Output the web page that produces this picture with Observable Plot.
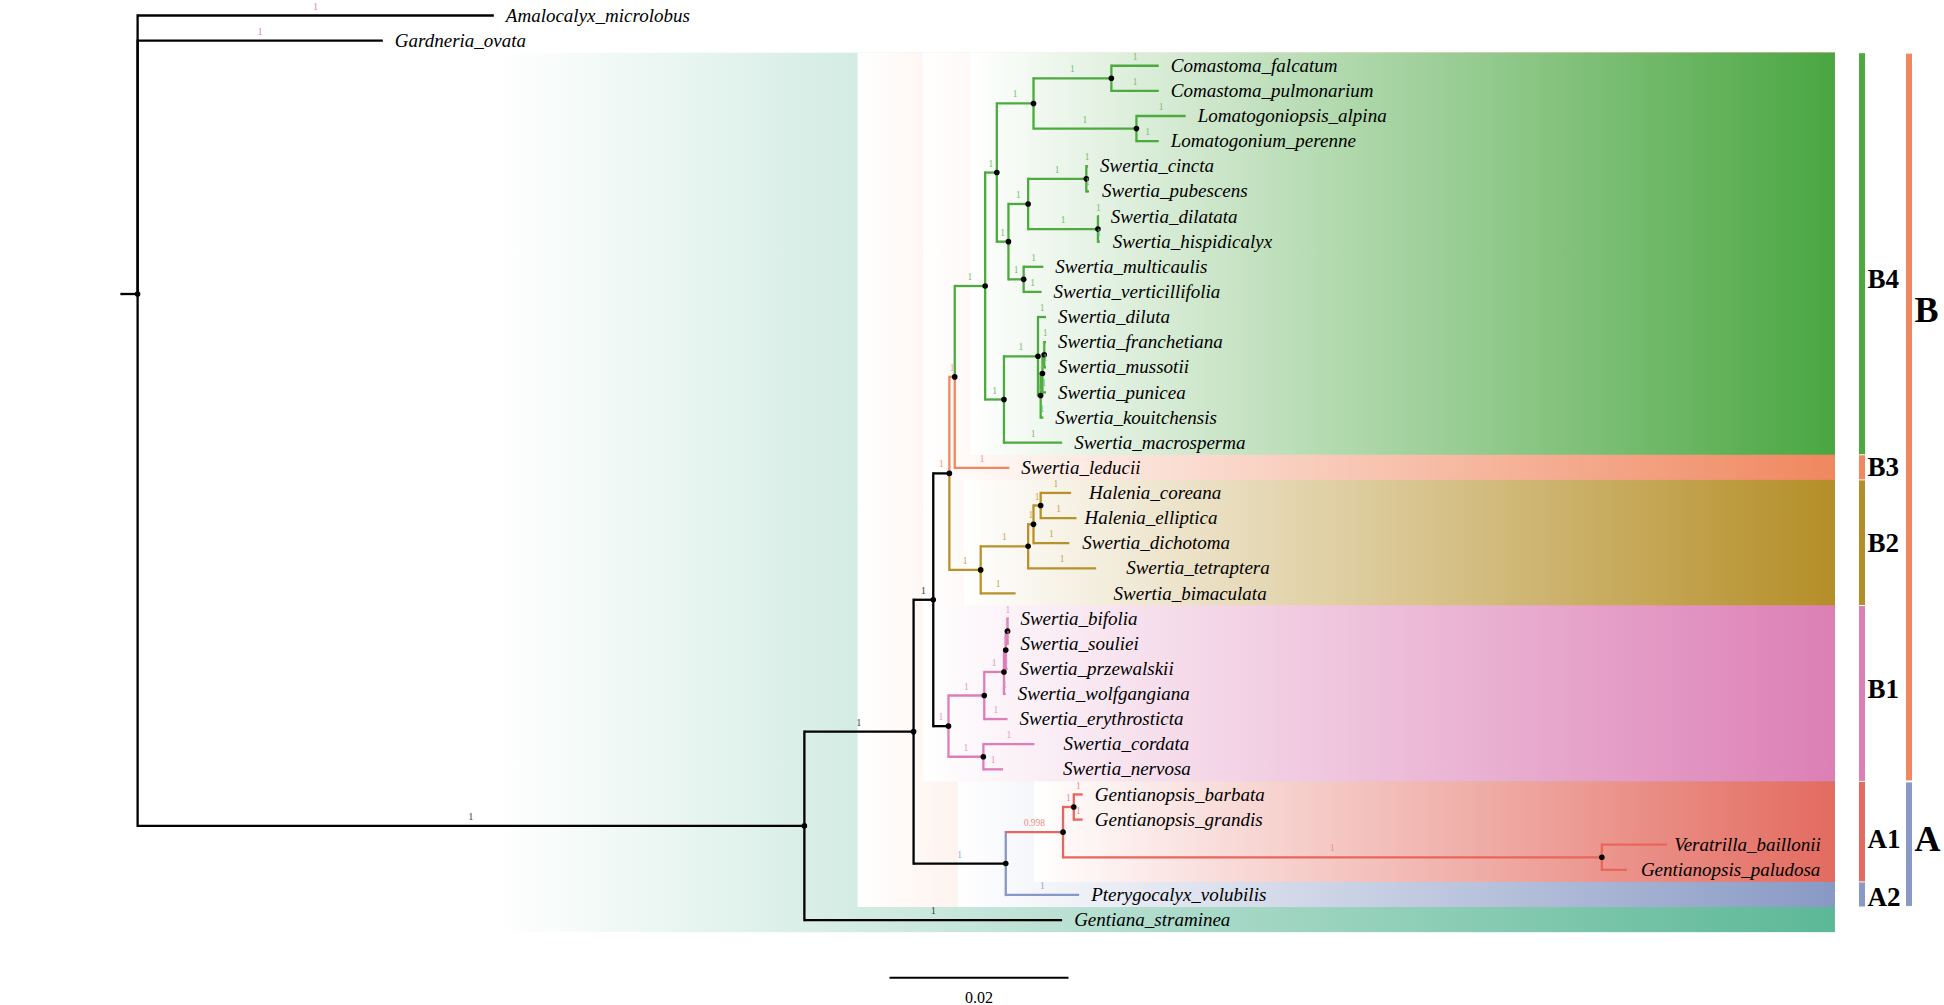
<!DOCTYPE html>
<html><head><meta charset="utf-8">
<script src="https://cdn.jsdelivr.net/npm/d3@7"></script>
<script src="https://cdn.jsdelivr.net/npm/@observablehq/plot@0.6"></script>
<style>body{margin:0;background:#fff} svg{display:block}</style>
</head><body><div id="chart"></div>
<script>
// ---------------- DATA ----------------
const nodeIds = ["origin","root","Amalocalyx_microlobus","Gardneria_ovata","N_in","N_X","N_B","N_B234","N_B43","N_B4","N_B4a","N_Com","N_Comastoma","Comastoma_falcatum","Comastoma_pulmonarium","N_Lomato","Lomatogoniopsis_alpina","Lomatogonium_perenne","N_Sw1","N_cdh","N_cp","Swertia_cincta","Swertia_pubescens","N_dh","Swertia_dilatata","Swertia_hispidicalyx","N_mv","Swertia_multicaulis","Swertia_verticillifolia","N_B4b","N_dil","Swertia_diluta","N3","N2","N1","Swertia_franchetiana","Swertia_mussotii","Swertia_punicea","Swertia_kouitchensis","Swertia_macrosperma","Swertia_leducii","N_B2","N_B2a","N_Hd","N_H","Halenia_coreana","Halenia_elliptica","Swertia_dichotoma","Swertia_tetraptera","Swertia_bimaculata","N_B1","N_B1a","N_bswp","N_bsp","N_bs","Swertia_bifolia","Swertia_souliei","Swertia_przewalskii","Swertia_wolfgangiana","Swertia_erythrosticta","N_cn","Swertia_cordata","Swertia_nervosa","N_A","N_A1","N_Gb","Gentianopsis_barbata","Gentianopsis_grandis","N_VP","Veratrilla_baillonii","Gentianopsis_paludosa","Pterygocalyx_volubilis","Gentiana_straminea"];
const parentIds = [null,"origin","root","root","root","N_in","N_X","N_B","N_B234","N_B43","N_B4","N_B4a","N_Com","N_Comastoma","N_Comastoma","N_Com","N_Lomato","N_Lomato","N_B4a","N_Sw1","N_cdh","N_cp","N_cp","N_cdh","N_dh","N_dh","N_Sw1","N_mv","N_mv","N_B4","N_B4b","N_dil","N_dil","N3","N2","N1","N1","N2","N3","N_B4b","N_B43","N_B234","N_B2","N_B2a","N_Hd","N_H","N_H","N_Hd","N_B2a","N_B2","N_B","N_B1","N_B1a","N_bswp","N_bsp","N_bs","N_bs","N_bsp","N_bswp","N_B1a","N_B1","N_cn","N_cn","N_X","N_A","N_A1","N_Gb","N_Gb","N_A1","N_VP","N_VP","N_A","N_in"];
const branchLengths = [0,0.0018,0.0398,0.0274,0.0745,0.0122,0.0022,0.0018,0.0006,0.0034,0.0013,0.0041,0.0087,0.0053,0.0053,0.0115,0.0055,0.0025,0.0013,0.0022,0.0065,0.0002,0.0003,0.0078,0.0001,0.0002,0.0017,0.0022,0.0020,0.0021,0.0038,0.0009,0.0003,0.0002,0.0002,0.0002,0.0002,0.0004,0.0003,0.0065,0.0061,0.0035,0.0053,0.0006,0.0008,0.0034,0.0040,0.0040,0.0076,0.0039,0.0017,0.0040,0.0022,0.0002,0.0002,0.0001,0.0001,0.0002,0.0002,0.0026,0.0039,0.0057,0.0022,0.0103,0.0064,0.0012,0.0010,0.0010,0.0602,0.0073,0.0028,0.0082,0.0288];
const supports = [null,null,"1","1","1","1","1","1","1","1","1","1","1","1","1","1","1","1","1","1","1","1","1","1","1","1","1","1","1","1","1","1","1","1","1","1","1","1","1","1","1","1","1","1","1","1","1","1","1","1","1","1","1","1","1","1","1","1","1","1","1","1","1","1","0.998","1","1","1","1","1","1","1","1"];
const groups = ["stem","stem","out","out","stem","stem","stem","stem","B3","B4","B4","B4","B4","B4","B4","B4","B4","B4","B4","B4","B4","B4","B4","B4","B4","B4","B4","B4","B4","B4","B4","B4","B4","B4","B4","B4","B4","B4","B4","B4","B3","B2","B2","B2","B2","B2","B2","B2","B2","B2","stem","B1","B1","B1","B1","B1","B1","B1","B1","B1","B1","B1","B1","stem","A1","A1","A1","A1","A1","A1","A1","A2","stem"];

// highlighted clades (first leaf, last leaf, start distance)
const highlightIds   = ["ingroup","AB","B","B4","B2","B1","A","A1"];
const highlightFirst = ["Comastoma_falcatum","Comastoma_falcatum","Comastoma_falcatum","Comastoma_falcatum","Halenia_coreana","Swertia_bifolia","Gentianopsis_barbata","Gentianopsis_barbata"];
const highlightLast  = ["Gentiana_straminea","Pterygocalyx_volubilis","Swertia_nervosa","Swertia_macrosperma","Swertia_bimaculata","Swertia_nervosa","Pterygocalyx_volubilis","Gentianopsis_paludosa"];
const highlightStart = [0.0419,0.0823,0.0896,0.0949,0.0942,0.0896,0.0935,0.1020];
const highlightEnd = 0.1915;

// clade strips on the right
const stripNames = ["B4","B3","B2","B1","A1","A2"];
const stripFirst = ["Comastoma_falcatum","Swertia_leducii","Halenia_coreana","Swertia_bifolia","Gentianopsis_barbata","Pterygocalyx_volubilis"];
const stripLast  = ["Swertia_macrosperma","Swertia_leducii","Swertia_bimaculata","Swertia_nervosa","Gentianopsis_paludosa","Pterygocalyx_volubilis"];
const stripLabelRow = [10.5,18,21,26.8,32.8,35.1];
const majorNames = ["B","A"];
const majorFirst = ["Comastoma_falcatum","Gentianopsis_barbata"];
const majorLast  = ["Swertia_nervosa","Pterygocalyx_volubilis"];
const majorLabelRow = [11.75,32.8];
const scaleBarLength = 0.02;

// ---------------- STYLE ----------------
const W = 1944, H = 1005;
const pxPerUnit = 8950, originPx = 121;
const lineColor = {stem:"#000000", out:"#000000", B4:"#4caa3e", B3:"#f0875f", B2:"#b7922a", B1:"#de7db7", A1:"#e8665b", A2:"#8797c9"};
const tintColor = {stem:"#333333", out:"#e67aa8", B4:"#78c06c", B3:"#f39c7c", B2:"#c9a548", B1:"#e798c8", A1:"#ef8c82", A2:"#93a3d2"};
const hlColor = {ingroup:"#5cb897", AB:"#f0875f", B:"#f0875f", B4:"#4aa641", B2:"#b48e27", B1:"#dc7fb5", A:"#8899c4", A1:"#e36b60"};
const stripColor = {B4:"#4caa3e", B3:"#f0875f", B2:"#b48e27", B1:"#dc7fb5", A1:"#e36b60", A2:"#8899c4", B:"#f0875f", A:"#8899c4"};
const verticalOverride = {N_A1:"A2"};
const tintOverride = {N_B234:"B3", N_B1:"B1", N_A:"A2"};
const labelGap = 12;
const labelNudge = {Halenia_coreana:6, Halenia_elliptica:-4, Swertia_dichotoma:1, Swertia_tetraptera:18, Swertia_bimaculata:86, Swertia_cordata:17, Swertia_nervosa:48, Veratrilla_baillonii:-5, Gentianopsis_paludosa:2, Swertia_pubescens:1, Swertia_hispidicalyx:1};
const serif = "Liberation Serif, Times New Roman, serif";

// ---------------- BUILD TREE ----------------
const table = nodeIds.map((id,i)=>({id, parent: parentIds[i], len: branchLengths[i], support: supports[i], group: groups[i]}));
const root = d3.stratify().id(d=>d.id).parentId(d=>d.parent)(table);
root.eachBefore(n => { n.x = n.parent ? n.parent.x + n.data.len : 0; });
const leaves = root.leaves();
leaves.forEach((n,i)=>{ n.y = i; });
root.eachAfter(n => { if (n.children) n.y = d3.mean(n.children, c=>c.y); });
const row = new Map(leaves.map((n,i)=>[n.id,i]));
const edges = root.descendants().filter(n=>n.parent);
const internal = root.descendants().filter(n=>n.children && n.parent);

const highlights = highlightIds.map((id,i)=>({id, x1: highlightStart[i], x2: highlightEnd, y1: row.get(highlightFirst[i]) - 0.5, y2: row.get(highlightLast[i]) + 0.5}));
const strips = stripNames.map((id,i)=>({id, y1: row.get(stripFirst[i]) - 0.5, y2: row.get(stripLast[i]) + 0.5, ly: stripLabelRow[i]}));
const majors = majorNames.map((id,i)=>({id, y1: row.get(majorFirst[i]) - 0.5, y2: row.get(majorLast[i]) + 0.5, ly: majorLabelRow[i]}));

const u = px => px / pxPerUnit;           // pixel offset -> tree units
const innerStrip = [u(1859-originPx), u(1865-originPx)];
const outerStrip = [u(1906-originPx), u(1912-originPx)];
const scaleBarX = u(889-originPx);
const lastRow = leaves.length - 1;

const gradients = () => {
  const defs = d3.create("svg:defs");
  for (const h of highlightIds) {
    const g = defs.append("linearGradient").attr("id", "g-"+h).attr("x1",0).attr("x2",1).attr("y1",0).attr("y2",0);
    g.append("stop").attr("offset",0).attr("stop-color","#ffffff");
    g.append("stop").attr("offset",1).attr("stop-color",hlColor[h]);
  }
  return defs.node();
};

const plot = Plot.plot({
  width: W, height: H,
  marginLeft: 0, marginRight: 0, marginTop: 0, marginBottom: 0,
  x: {domain: [u(-originPx), u(W-originPx)], range: [0, W], axis: null},
  y: {domain: [0, lastRow], range: [15, 919.6], axis: null},
  color: {type: "identity"},
  style: {background: "#fff"},
  marks: [
    gradients,
    Plot.rect(highlights, {x1:"x1", x2:"x2", y1:"y1", y2:"y2", fill: d => `url(#g-${d.id})`}),
    // vertical connectors
    Plot.link(edges, {x1: d=>d.parent.x, x2: d=>d.parent.x, y1: d=>d.parent.y, y2: d=>d.y,
      stroke: d => lineColor[verticalOverride[d.id] ?? d.data.group], strokeWidth: 2.3, strokeLinecap: "square"}),
    // horizontal branches
    Plot.link(edges, {x1: d=>d.parent.x, x2: d=>d.x, y1: d=>d.y, y2: d=>d.y,
      stroke: d => lineColor[d.data.group], strokeWidth: 2.3, strokeLinecap: "butt"}),
    Plot.dot(internal, {x:"x", y:"y", r: 2.8, fill:"#000"}),
    // support values
    Plot.text(edges.filter(d=>d.data.support), {x: d=>(d.parent.x + d.x)/2, y:"y", text: d=>d.data.support, dy: -9,
      fill: d => tintColor[tintOverride[d.id] ?? d.data.group], fontSize: 9.5, fontFamily: serif}),
    // taxon labels
    Plot.text(leaves, {x: d => d.x + u(labelGap + (labelNudge[d.id] ?? 0)), y:"y", text:"id", textAnchor:"start",
      fontSize: 19, fontStyle:"italic", fontFamily: serif, fill:"#000"}),
    // clade strips
    Plot.rect(strips, {x1: innerStrip[0], x2: innerStrip[1], y1:"y1", y2:"y2", fill: d=>stripColor[d.id], insetTop: 0.5, insetBottom: 0.5}),
    Plot.text(strips, {x: innerStrip[1] + u(2), y:"ly", text:"id", textAnchor:"start", fontSize: 27, fontWeight:"bold", fontFamily: serif, fill:"#000"}),
    Plot.rect(majors, {x1: outerStrip[0], x2: outerStrip[1], y1:"y1", y2:"y2", fill: d=>stripColor[d.id], insetTop: 1, insetBottom: 1}),
    Plot.text(majors, {x: outerStrip[1] + u(2), y:"ly", text:"id", textAnchor:"start", fontSize: 36, fontWeight:"bold", fontFamily: serif, fill:"#000"}),
    // scale bar
    Plot.link([scaleBarLength], {x1: scaleBarX, x2: d => scaleBarX + d, y1: lastRow + 2.29, y2: lastRow + 2.29, stroke:"#000", strokeWidth: 2}),
    Plot.text([scaleBarLength], {x: d => scaleBarX + d/2, y: lastRow + 3.1, text: d => String(d), fontSize: 16, fontFamily: serif, fill:"#000"})
  ]
});
document.getElementById("chart").appendChild(plot);
</script></body></html>
